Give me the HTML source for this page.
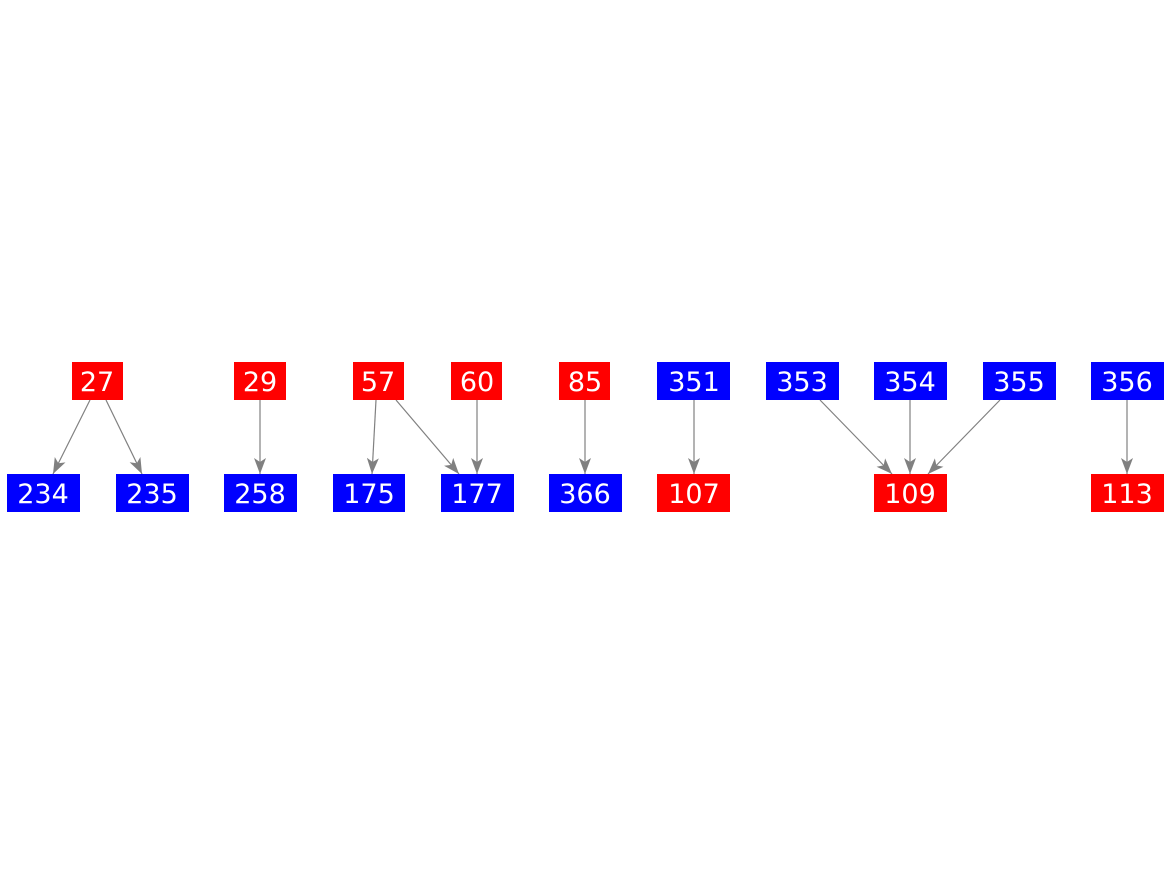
<!DOCTYPE html>
<html><head><style>
body{margin:0;background:#fff;width:1171px;height:875px;overflow:hidden}
</style></head><body>
<svg width="1171" height="875" xmlns="http://www.w3.org/2000/svg" font-family="DejaVu Sans, sans-serif" font-size="27">
<defs><marker id="a" viewBox="0 0 16 12" refX="16" refY="6" markerWidth="16" markerHeight="12" markerUnits="userSpaceOnUse" orient="auto"><path d="M0,0 L16,6 L0,12 L4,6 Z" fill="#808080"/></marker></defs>
<g stroke="#808080" stroke-width="1.2" marker-end="url(#a)">
<line x1="90" y1="400" x2="53" y2="474"/>
<line x1="106" y1="400" x2="142" y2="474"/>
<line x1="260" y1="400" x2="260" y2="474"/>
<line x1="376" y1="400" x2="372" y2="474"/>
<line x1="396" y1="400" x2="459" y2="474"/>
<line x1="477" y1="400" x2="477" y2="474"/>
<line x1="585" y1="400" x2="585" y2="474"/>
<line x1="694" y1="400" x2="694" y2="474"/>
<line x1="820" y1="400" x2="892" y2="474"/>
<line x1="910" y1="400" x2="910" y2="474"/>
<line x1="1000" y1="400" x2="928" y2="474"/>
<line x1="1127" y1="400" x2="1127" y2="474"/>
</g>
<g>
<rect x="72" y="362" width="51" height="38" fill="#f00"/>
<rect x="234" y="362" width="52" height="38" fill="#f00"/>
<rect x="353" y="362" width="51" height="38" fill="#f00"/>
<rect x="451" y="362" width="51" height="38" fill="#f00"/>
<rect x="559" y="362" width="51" height="38" fill="#f00"/>
<rect x="657" y="362" width="73" height="38" fill="#00f"/>
<rect x="766" y="362" width="73" height="38" fill="#00f"/>
<rect x="874" y="362" width="73" height="38" fill="#00f"/>
<rect x="983" y="362" width="73" height="38" fill="#00f"/>
<rect x="1091" y="362" width="73" height="38" fill="#00f"/>
<rect x="7" y="474" width="73" height="38" fill="#00f"/>
<rect x="116" y="474" width="73" height="38" fill="#00f"/>
<rect x="224" y="474" width="73" height="38" fill="#00f"/>
<rect x="333" y="474" width="72" height="38" fill="#00f"/>
<rect x="441" y="474" width="73" height="38" fill="#00f"/>
<rect x="549" y="474" width="73" height="38" fill="#00f"/>
<rect x="657" y="474" width="73" height="38" fill="#f00"/>
<rect x="874" y="474" width="73" height="38" fill="#f00"/>
<rect x="1091" y="474" width="73" height="38" fill="#f00"/>
</g>
<g fill="#fff" text-anchor="middle">
<text x="97" y="391">27</text><text x="260" y="391">29</text><text x="378" y="391">57</text><text x="477" y="391">60</text><text x="585" y="391">85</text>
<text x="694" y="391">351</text><text x="802" y="391">353</text><text x="910" y="391">354</text><text x="1019" y="391">355</text><text x="1127" y="391">356</text>
<text x="43" y="503">234</text><text x="152" y="503">235</text><text x="260" y="503">258</text><text x="369" y="503">175</text><text x="477" y="503">177</text>
<text x="585" y="503">366</text><text x="694" y="503">107</text><text x="910" y="503">109</text><text x="1127" y="503">113</text>
</g>
</svg>
</body></html>
